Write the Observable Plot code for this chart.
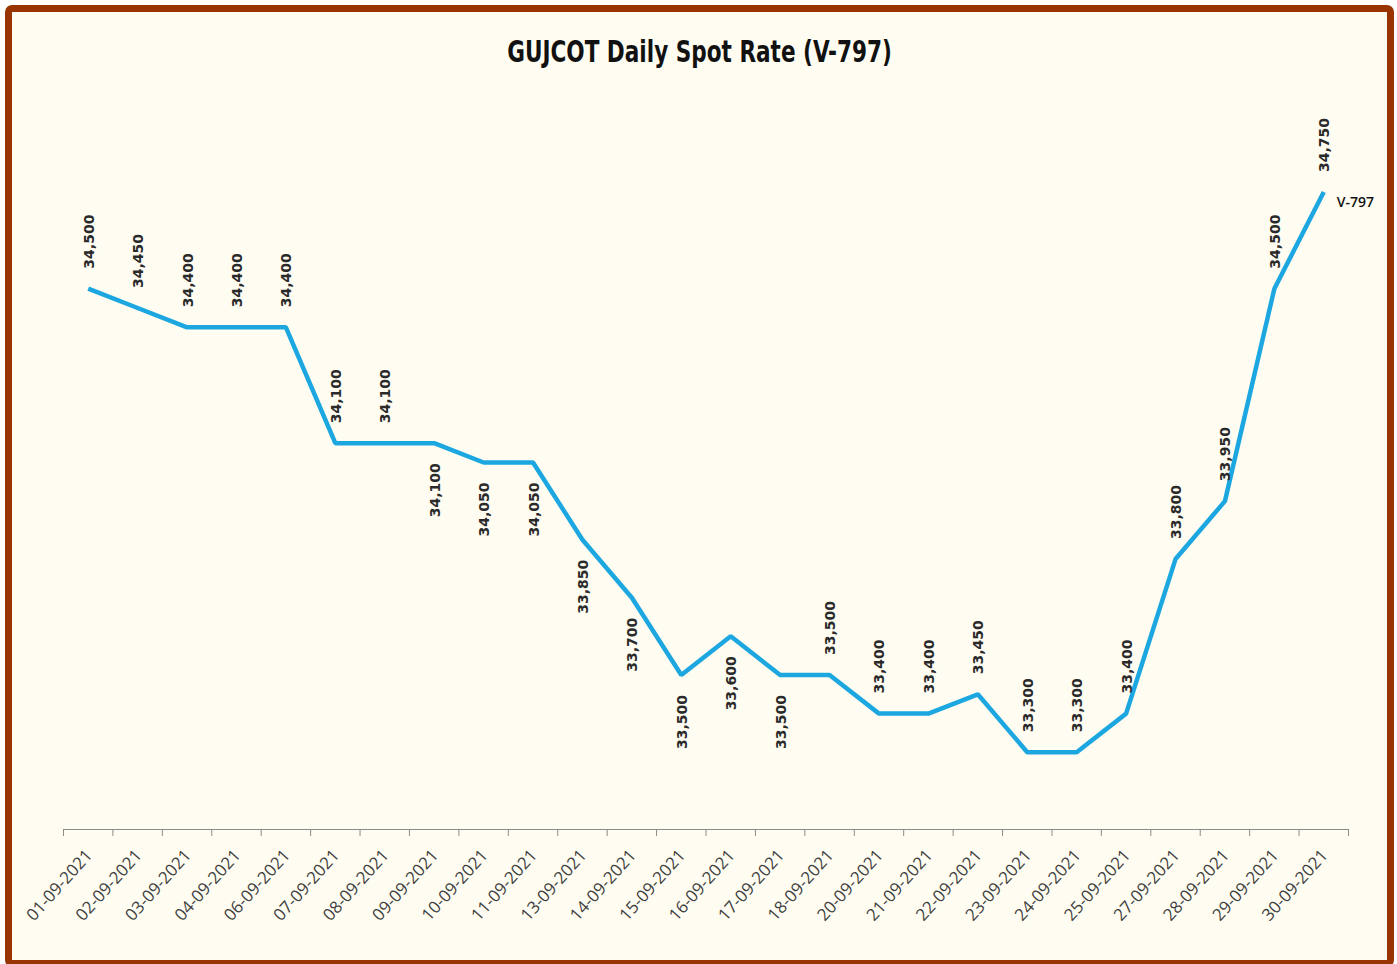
<!DOCTYPE html>
<html>
<head>
<meta charset="utf-8">
<script src="https://cdn.jsdelivr.net/npm/d3@7"></script>
<script src="https://cdn.jsdelivr.net/npm/@observablehq/plot@0.6"></script>
<style>
  html, body { margin: 0; padding: 0; background: #ffffff; }
  #frame {
    position: absolute; left: 5px; top: 5px; width: 1389px; height: 962px;
    box-sizing: border-box; border: 7px solid #993300; border-radius: 7px;
    background: #FFFDF2; overflow: hidden;
  }
  #title {
    height: 76px; line-height: 80px; text-align: center;
    font-family: "Liberation Sans Narrow", "DejaVu Sans Condensed", sans-serif;
    font-weight: bold; font-size: 24px; color: #111;
    transform: scaleY(1.22); transform-origin: 50% 50%;
  }
  #chart svg { display: block; }
</style>
</head>
<body>
<div id="frame">
  <div id="title">GUJCOT Daily Spot Rate (V-797)</div>
  <div id="chart"></div>
</div>
<script>
const dates = ["01-09-2021","02-09-2021","03-09-2021","04-09-2021","06-09-2021","07-09-2021","08-09-2021",
  "09-09-2021","10-09-2021","11-09-2021","13-09-2021","14-09-2021","15-09-2021","16-09-2021","17-09-2021",
  "18-09-2021","20-09-2021","21-09-2021","22-09-2021","23-09-2021","24-09-2021","25-09-2021","27-09-2021",
  "28-09-2021","29-09-2021","30-09-2021"];
const values = [34500,34450,34400,34400,34400,34100,34100,34100,34050,34050,33850,33700,33500,33600,33500,
  33500,33400,33400,33450,33300,33300,33400,33800,33950,34500,34750];
// dates whose data label sits below the line
const labelsBelow = ["09-09-2021","10-09-2021","11-09-2021","13-09-2021","14-09-2021","15-09-2021","16-09-2021","17-09-2021"];
const seriesName = "V-797";
const yDomain = [33100, 35000];

const data = dates.map((d, i) => ({i, date: d, value: values[i], below: labelsBelow.includes(d)}));
const boundaries = d3.range(-0.5, dates.length, 1);
const fmt = d3.format(",");

const plot = Plot.plot({
  width: 1375,
  height: 872,
  marginLeft: 51,
  marginRight: 39,
  marginTop: 7,
  marginBottom: 131,
  style: {background: "transparent", overflow: "visible"},
  x: {type: "linear", domain: [-0.5, dates.length - 0.5], axis: null, label: null},
  y: {domain: yDomain, axis: null, label: null},
  marks: [
    Plot.ruleY([yDomain[0]], {stroke: "#8a8a8a", strokeWidth: 1}),
    Plot.axisX({ticks: boundaries, tickSize: 7, tickFormat: () => "", label: null, stroke: "#8a8a8a", anchor: "bottom"}),
    Plot.text(data, {x: "i", frameAnchor: "bottom", text: "date", rotate: -48,
      textAnchor: "end", lineAnchor: "middle", dx: 1, dy: 23,
      fontFamily: "'Open Sans', sans-serif", fontSize: 17, fill: "#404040"}),
    Plot.line(data, {x: "i", y: "value", stroke: "#1DA7E0", strokeWidth: 4.5, strokeLinejoin: "miter", strokeLinecap: "butt"}),
    Plot.text(data.filter(d => !d.below), {x: "i", y: "value", text: d => fmt(d.value), rotate: -90,
      textAnchor: "start", lineAnchor: "middle", dy: -20, dx: 1,
      fontFamily: "'DejaVu Sans', sans-serif", fontWeight: "bold", fontSize: 14, fill: "#2a2a2a"}),
    Plot.text(data.filter(d => d.below), {x: "i", y: "value", text: d => fmt(d.value), rotate: -90,
      textAnchor: "end", lineAnchor: "middle", dy: 20, dx: 1,
      fontFamily: "'DejaVu Sans', sans-serif", fontWeight: "bold", fontSize: 14, fill: "#2a2a2a"}),
    Plot.text([data[data.length - 1]], {x: "i", y: "value", text: () => seriesName,
      textAnchor: "start", lineAnchor: "middle", dx: 13, dy: 10,
      fontFamily: "'Open Sans', sans-serif", fontWeight: 600, fontSize: 14, fill: "#111"})
  ]
});
document.getElementById("chart").appendChild(plot);
</script>
</body>
</html>
